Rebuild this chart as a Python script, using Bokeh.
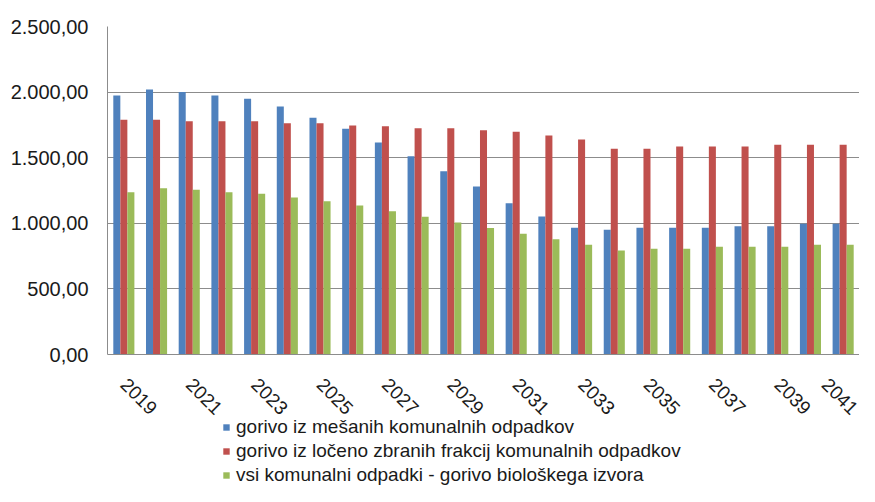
from bokeh.plotting import figure
from bokeh.models import ColumnDataSource, Range1d, FixedTicker, Legend, LegendItem
from bokeh.transform import dodge
from bokeh.embed import file_html
from bokeh.resources import INLINE
import math

years = list(range(2019, 2042))
mesani = [1975, 2020, 2000, 1975, 1950, 1890, 1805, 1720, 1615, 1512, 1397, 1280,
          1152, 1052, 966, 950, 966, 966, 966, 977, 977, 997, 997]
loceno = [1790, 1790, 1777, 1777, 1777, 1762, 1762, 1746, 1740, 1725, 1725, 1710,
          1697, 1669, 1639, 1568, 1568, 1585, 1585, 1585, 1598, 1598, 1598]
bio = [1237, 1268, 1255, 1237, 1225, 1197, 1168, 1136, 1092, 1050, 1006, 965,
       921, 878, 836, 793, 806, 806, 821, 821, 821, 836, 836]
series_names = ["gorivo iz mešanih komunalnih odpadkov",
                "gorivo iz ločeno zbranih frakcij komunalnih odpadkov",
                "vsi komunalni odpadki - gorivo biološkega izvora"]
y_tick_values = [0, 500, 1000, 1500, 2000, 2500]
y_tick_labels = ["0,00", "500,00", "1.000,00", "1.500,00", "2.000,00", "2.500,00"]
x_tick_values = [2019, 2021, 2023, 2025, 2027, 2029, 2031, 2033, 2035, 2037, 2039, 2041]
x_tick_labels = [str(v) for v in x_tick_values]

colors = ["#4F81BD", "#C0504D", "#9BBB59"]

src = ColumnDataSource(dict(year=years, mesani=mesani, loceno=loceno, bio=bio))

# frame spans down to the page bottom; value 0 sits 328 px below the top of the frame,
# the area under it holds the year labels and the legend
W, H = 859, 486
top_px, zero_px = 26, 354
y_max = y_tick_values[-1]
y_min = -(H - zero_px) * y_max / (zero_px - top_px)

p = figure(width=W, height=H, x_range=Range1d(years[0] - 0.5, years[-1] + 0.5),
           y_range=Range1d(y_min, y_max),
           output_backend="svg", toolbar_location=None,
           min_border_left=107, min_border_top=top_px, min_border_right=0, min_border_bottom=0)
p.outline_line_color = None

bw = 0.215
renderers = []
for col, off, c in zip(["mesani", "loceno", "bio"], [-bw, 0, bw], colors):
    r = p.vbar(x=dodge("year", off), top=col, bottom=0, width=bw,
               source=src, fill_color=c, line_color=None)
    renderers.append(r)

font = "Liberation Sans"
p.yaxis.ticker = FixedTicker(ticks=y_tick_values)
p.yaxis.bounds = (0, y_max)
p.yaxis.major_label_overrides = {v: l for v, l in zip(y_tick_values, y_tick_labels)}
p.yaxis.major_label_text_font = font
p.yaxis.major_label_text_font_size = "20px"
p.yaxis.major_label_text_color = "#1a1a1a"
p.yaxis.major_tick_out = 0
p.yaxis.major_tick_in = 0
p.yaxis.minor_tick_out = 0
p.yaxis.minor_tick_in = 0
p.yaxis.major_label_standoff = 19
p.yaxis.axis_line_color = "#8c8c8c"

p.xaxis.fixed_location = 0
p.xaxis.ticker = FixedTicker(ticks=x_tick_values)
p.xaxis.major_label_overrides = {v: l for v, l in zip(x_tick_values, x_tick_labels)}
p.xaxis.major_label_orientation = -math.pi / 4
p.xaxis.major_label_text_font = font
p.xaxis.major_label_text_font_size = "19px"
p.xaxis.major_label_text_color = "#1a1a1a"
p.xaxis.major_tick_out = 0
p.xaxis.major_tick_in = 0
p.xaxis.minor_tick_out = 0
p.xaxis.minor_tick_in = 0
p.xaxis.major_label_standoff = 27
p.xaxis.axis_line_color = "#8c8c8c"

p.xgrid.grid_line_color = None
p.ygrid.ticker = FixedTicker(ticks=y_tick_values)
p.ygrid.grid_line_color = "#8c8c8c"
p.ygrid.grid_line_width = 1

legend = Legend(items=[LegendItem(label=n, renderers=[r]) for n, r in zip(series_names, renderers)],
                orientation="vertical", location=(115, 0), margin=0, padding=0,
                border_line_color=None, background_fill_alpha=0,
                glyph_width=8, glyph_height=8, label_standoff=6, spacing=2,
                label_height=22,
                label_text_font=font, label_text_font_size="19px",
                label_text_color="#1a1a1a")
p.add_layout(legend, "center")

open("out.html", "w").write(file_html(p, INLINE))
